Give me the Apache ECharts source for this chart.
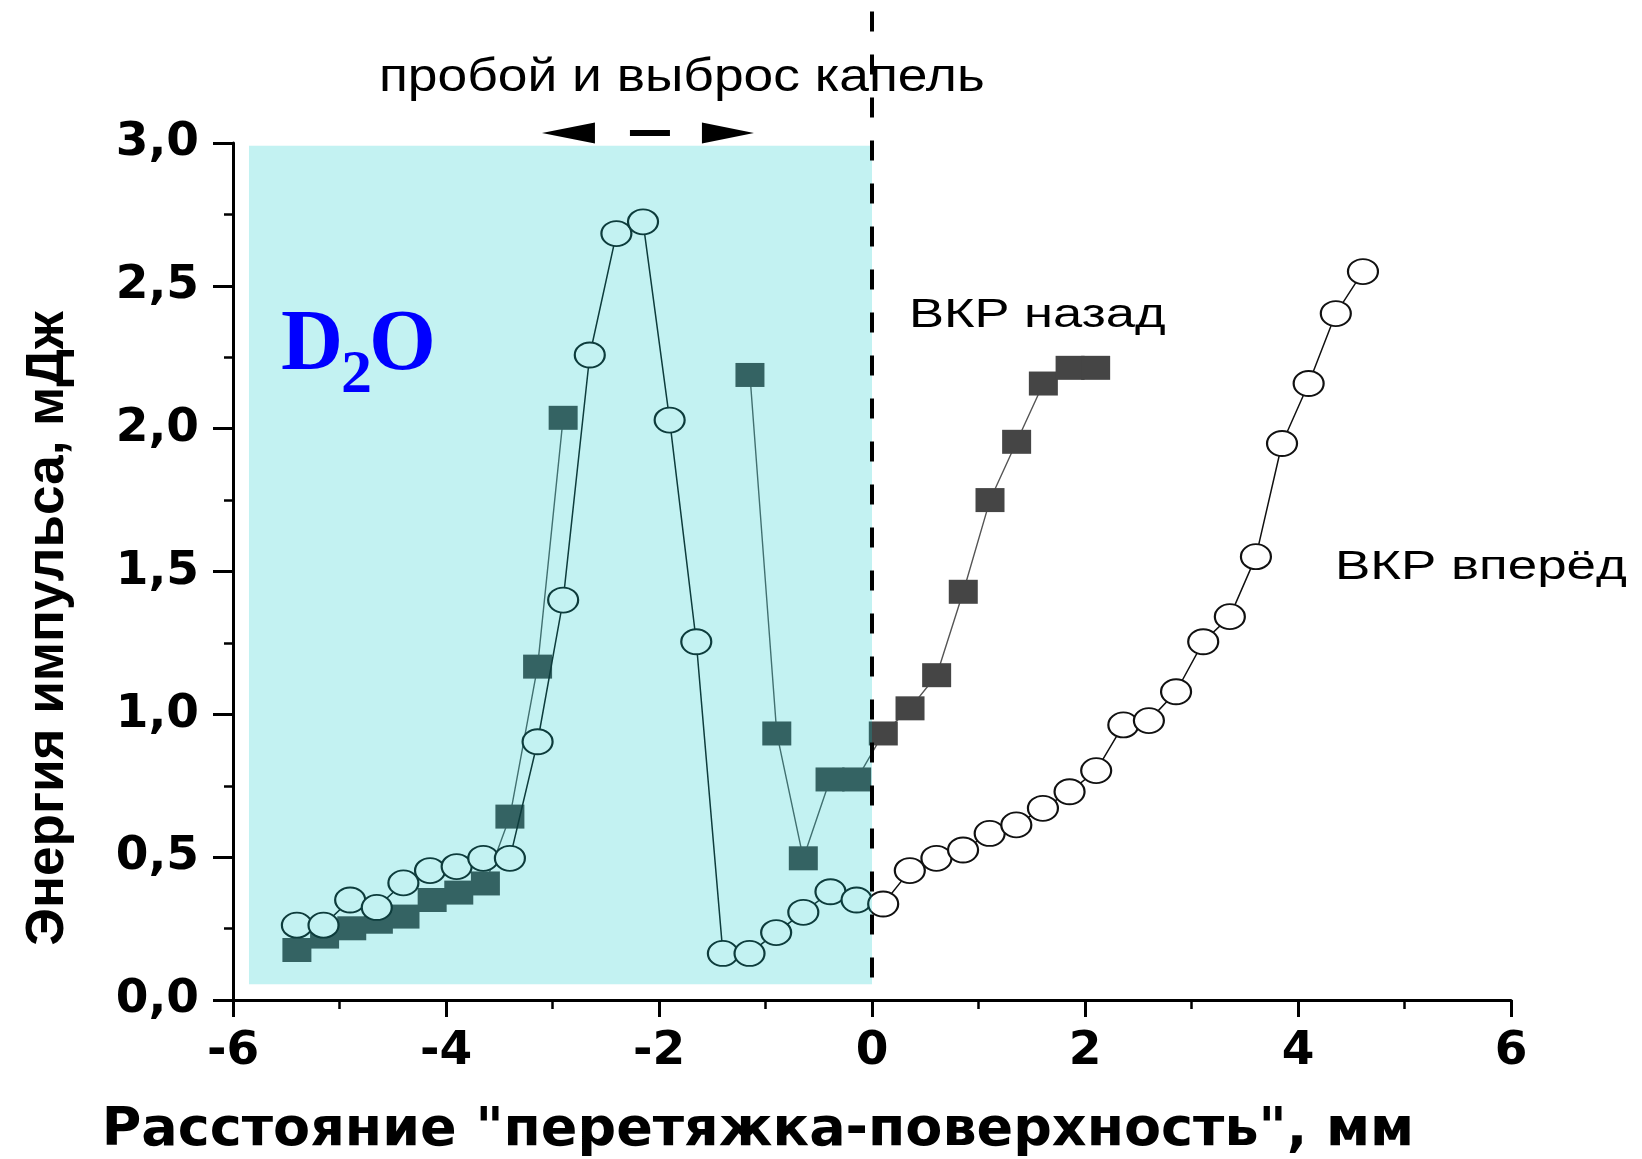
<!DOCTYPE html>
<html>
<head>
<meta charset="utf-8">
<script src="https://cdn.jsdelivr.net/npm/echarts@6/dist/echarts.min.js"></script>
<style>
  html, body { margin: 0; padding: 0; background: #fff; }
  #chart { width: 1642px; height: 1159px; }
</style>
</head>
<body>
<div id="chart"></div>
<script>
// Distance "waist–surface" (mm) and pulse energy (mJ), forward SRS (open circles)
const forwardX = [-5.40, -5.15, -4.90, -4.65, -4.40, -4.15, -3.90, -3.65, -3.40, -3.14,
                  -2.90, -2.65, -2.40, -2.15, -1.90, -1.65, -1.40, -1.15, -0.90, -0.645,
                  -0.39, -0.145, 0.105, 0.355, 0.605, 0.855, 1.105, 1.355, 1.605, 1.855,
                  2.105, 2.36, 2.60, 2.855, 3.11, 3.36, 3.605, 3.85, 4.10, 4.355, 4.61];
const forwardY = [0.262, 0.262, 0.350, 0.324, 0.410, 0.453, 0.467, 0.496, 0.496, 0.904,
                  1.400, 2.258, 2.683, 2.724, 2.030, 1.254, 0.163, 0.163, 0.236, 0.307,
                  0.379, 0.350, 0.336, 0.453, 0.496, 0.525, 0.583, 0.613, 0.671, 0.729,
                  0.803, 0.963, 0.978, 1.079, 1.254, 1.342, 1.552, 1.948, 2.158, 2.403, 2.550];

// Backward SRS (filled squares); null breaks the curve
const backwardX = [-5.40, -5.14, -4.885, -4.635, -4.385, -4.13, -3.88, -3.63, -3.40, -3.14,
                   -2.90, null, -1.146, -0.894, -0.645, -0.394, -0.144, 0.106, 0.357, 0.607,
                   0.857, 1.108, 1.358, 1.609, 1.86, 2.10];
const backwardY = [0.175, 0.222, 0.251, 0.274, 0.292, 0.350, 0.376, 0.408, 0.642, 1.167,
                   2.038, null, 2.188, 0.933, 0.496, 0.772, 0.772, 0.933, 1.021, 1.137,
                   1.429, 1.750, 1.954, 2.158, 2.213, 2.213];

// Shaded breakdown zone: x from, x to, y from, y to
const breakdownZone = [-5.85, 0, 0.055, 2.99];

const xRange = { min: -6, max: 6, interval: 2 };
const yRange = { min: 0, max: 3, interval: 0.5 };

const toPairs = (xs, ys) => xs.map((x, i) => (x == null || ys[i] == null) ? ['-', '-'] : [x, ys[i]]);

const chart = echarts.init(document.getElementById('chart'), null, { renderer: 'canvas' });

const boldDigits = { fontFamily: 'DejaVu Sans', fontWeight: 'bold', color: '#000' };

chart.setOption({
  animation: false,
  backgroundColor: '#fff',
  grid: { left: 233, right: 131, top: 143, bottom: 159, containLabel: false, outerBoundsMode: 'none' },
  xAxis: {
    type: 'value',
    min: xRange.min, max: xRange.max, interval: xRange.interval,
    name: 'Расстояние "перетяжка-поверхность", мм',
    nameLocation: 'middle',
    nameGap: 104,
    nameTextStyle: { fontFamily: 'DejaVu Sans', fontWeight: 'bold', fontSize: 54, color: '#000', padding: [0, 228, 0, 0] },
    axisLine: { onZero: false, lineStyle: { color: '#000', width: 3 } },
    axisTick: { length: 17, lineStyle: { color: '#000', width: 3 } },
    minorTick: { show: true, splitNumber: 2, length: 9, lineStyle: { color: '#000', width: 2.5 } },
    splitLine: { show: false },
    axisLabel: Object.assign({ fontSize: 47, margin: 28, showMinLabel: true, showMaxLabel: true }, boldDigits)
  },
  yAxis: {
    type: 'value',
    min: yRange.min, max: yRange.max, interval: yRange.interval,
    name: 'Энергия импульса, мДж',
    nameLocation: 'middle',
    nameGap: 158,
    nameTextStyle: { fontFamily: 'Liberation Sans', fontWeight: 'bold', fontSize: 53, color: '#000', padding: [0, 114, 0, 0] },
    axisLine: { onZero: false, lineStyle: { color: '#000', width: 3 } },
    axisTick: { length: 20, lineStyle: { color: '#000', width: 3 } },
    minorTick: { show: true, splitNumber: 2, length: 9, lineStyle: { color: '#000', width: 2.5 } },
    splitLine: { show: false },
    axisLabel: Object.assign({
      fontSize: 47, margin: 34, showMinLabel: true, showMaxLabel: true,
      formatter: v => v.toFixed(1).replace('.', ',')
    }, boldDigits)
  },
  series: [
    {
      name: 'ВКР назад',
      type: 'line',
      z: 2,
      data: toPairs(backwardX, backwardY),
      connectNulls: false,
      symbol: 'rect',
      symbolSize: [29, 24],
      itemStyle: { color: '#454545', borderWidth: 0 },
      lineStyle: { color: '#555', width: 1.4 }
    },
    {
      name: 'ВКР вперёд',
      type: 'line',
      z: 3,
      data: toPairs(forwardX, forwardY),
      symbol: 'circle',
      symbolSize: [30, 25],
      itemStyle: { color: '#fff', borderColor: '#111', borderWidth: 2 },
      lineStyle: { color: '#111', width: 1.5 }
    },
    {
      // translucent cyan zone laid over the markers
      type: 'custom',
      z: 5,
      silent: true,
      data: [breakdownZone],
      encode: { x: [0, 1], y: [2, 3] },
      renderItem: (params, api) => {
        const p0 = api.coord([api.value(0), api.value(3)]);
        const p1 = api.coord([api.value(1), api.value(2)]);
        return {
          type: 'rect',
          shape: { x: p0[0], y: p0[1], width: p1[0] - p0[0], height: p1[1] - p0[1] },
          style: { fill: 'rgba(0, 200, 200, 0.235)' }
        };
      }
    }
  ]
});

// Annotations placed through the grid's own scales
const px = (x, y) => chart.convertToPixel({ gridIndex: 0 }, [x, y]);

const lineTop = px(0, 3.46);
const lineBottom = px(0, 0.03);
const arrowC = px(-2.085, 3.035);
const dAnchor = px(-5.55, 2.286);
const topText = px(-4.63, 3.225);
const backText = px(0.347, 2.394);
const fwdText = px(4.347, 1.513);

const labelFont = { fontFamily: 'Liberation Sans', fontSize: 41, fill: '#000', align: 'left', verticalAlign: 'middle' };
const d2oFont = { fontFamily: 'Liberation Serif', fontWeight: 'bold', fill: '#0000ff', align: 'left', verticalAlign: 'middle' };

chart.setOption({
  graphic: [
    {
      type: 'line', z: 100, silent: true,
      shape: { x1: lineTop[0], y1: lineTop[1], x2: lineBottom[0], y2: lineBottom[1] },
      style: { stroke: '#000', lineWidth: 4, lineDash: [20, 23] }
    },
    {
      type: 'text', z: 100, x: topText[0], y: topText[1], scaleX: 1.16,
      style: Object.assign({}, labelFont, { text: 'пробой и выброс капель', fontSize: 46 })
    },
    {
      type: 'polygon', z: 100,
      shape: { points: [[arrowC[0] - 108, arrowC[1]], [arrowC[0] - 55, arrowC[1] - 10.5], [arrowC[0] - 55, arrowC[1] + 10.5]] },
      style: { fill: '#000' }
    },
    {
      type: 'rect', z: 100,
      shape: { x: arrowC[0] - 20, y: arrowC[1] - 3, width: 40, height: 6 },
      style: { fill: '#000' }
    },
    {
      type: 'polygon', z: 100,
      shape: { points: [[arrowC[0] + 104, arrowC[1]], [arrowC[0] + 52, arrowC[1] - 10.5], [arrowC[0] + 52, arrowC[1] + 10.5]] },
      style: { fill: '#000' }
    },
    {
      type: 'text', z: 100, x: backText[0], y: backText[1], scaleX: 1.28,
      style: Object.assign({}, labelFont, { text: 'ВКР назад' })
    },
    {
      type: 'text', z: 100, x: fwdText[0], y: fwdText[1], scaleX: 1.29,
      style: Object.assign({}, labelFont, { text: 'ВКР вперёд' })
    },
    {
      type: 'text', z: 110, x: dAnchor[0], y: dAnchor[1],
      style: Object.assign({}, d2oFont, { text: 'D', fontSize: 86 })
    },
    {
      type: 'text', z: 110, x: dAnchor[0] + 60, y: dAnchor[1] + 29,
      style: Object.assign({}, d2oFont, { text: '2', fontSize: 62 })
    },
    {
      type: 'text', z: 110, x: dAnchor[0] + 88, y: dAnchor[1],
      style: Object.assign({}, d2oFont, { text: 'O', fontSize: 86 })
    }
  ]
});
</script>
</body>
</html>
